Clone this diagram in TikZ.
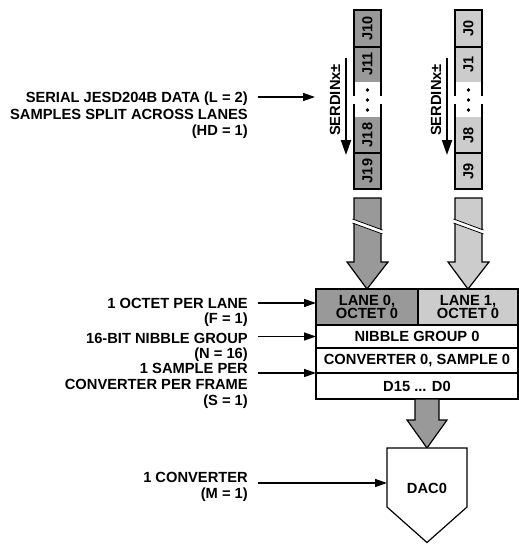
\documentclass[tikz,border=0pt]{standalone}
\usepackage{fontspec}
\setmainfont{Liberation Sans}
\usetikzlibrary{arrows.meta,positioning}
\definecolor{lanedark}{gray}{0.6}
\definecolor{lanelight}{gray}{0.8}

\begin{document}
\begin{tikzpicture}[x=1pt,y=-1pt,
    font=\fontsize{14.7}{15}\selectfont\bfseries,
    lbl/.style={anchor=north east,align=right,inner sep=0pt},
    cell/.style={draw,line width=1.2pt,inner sep=0pt,outer sep=0pt,align=center,
        font=\fontsize{14.7}{13.8}\selectfont\bfseries},
    jlbl/.style={rotate=90,inner sep=0pt,font=\fontsize{14.5}{15}\selectfont\bfseries},
    colline/.style={line width=1.4pt},
    labarrow/.style={-{Triangle[length=12pt,width=8pt]},line width=1.4pt},
    serarrow/.style={-{Triangle[length=15pt,width=10pt]},line width=2pt},
    bigarrow/.style={draw,line width=1.2pt,line join=miter}
]
\useasboundingbox (0,0) rectangle (519,544);

% frame table
\node[cell,fill=lanedark,minimum width=102pt,minimum height=36pt,anchor=north west]
    (lane0) at (316,289) {LANE 0,\\OCTET 0};
\node[cell,fill=lanelight,minimum width=100pt,minimum height=36pt,right=0pt of lane0]
    (lane1) {LANE 1,\\OCTET 0};
\node[cell,minimum width=202pt,minimum height=23pt,anchor=north west]
    (nibble) at (lane0.south west) {NIBBLE GROUP 0};
\node[cell,minimum width=202pt,minimum height=25pt,below=0pt of nibble]
    (conv) {CONVERTER 0, SAMPLE 0};
\node[cell,minimum width=202pt,minimum height=26pt,below=0pt of conv]
    (data) {D15 ... D0};

% serial lanes
\foreach \lx/\lc/\la/\lb/\lcc/\ld/\ln in {354/lanedark/J10/J11/J18/J19/0,
        455/lanelight/J0/J1/J8/J9/1}{
    \fill[\lc] (\lx,10) rectangle ++(27,72);
    \fill[\lc] (\lx,117) rectangle ++(27,72);
    \draw[colline] (\lx,96) -- (\lx,10) -- (\lx+27,10) -- (\lx+27,96);
    \draw[colline] (\lx,104) -- (\lx,189) -- (\lx+27,189) -- (\lx+27,104);
    \draw[colline] (\lx,47) -- ++(27,0) (\lx,153) -- ++(27,0);
    \node[jlbl] (ja\ln) at (\lx+13.5,28.5) {\la};
    \node[jlbl] (jb\ln) at (\lx+13.5,64) {\lb};
    \node[jlbl] (jc\ln) at (\lx+13.5,135) {\lcc};
    \node[jlbl] (jd\ln) at (\lx+13.5,171) {\ld};
    \foreach \dy in {90,100,110}
        \fill (\lx+13.5,\dy) circle[radius=1.8pt];
    \node[rotate=90,inner sep=0pt] (serdin\ln) at (\lx-19,100) {SERDINx±};
    \coordinate (sertop\ln) at (\lx-8,58);
    \coordinate (serend\ln) at (\lx-8,155);
    \draw[serarrow] (sertop\ln) -- (serend\ln);
    % lane into frame
    \draw[bigarrow,fill=\lc] (\lx,198) -- (\lx+27,198) -- (\lx+27,262) -- (\lx+34,262)
        -- (lane\ln.north) -- (\lx-7,262) -- (\lx,262) -- cycle;
    \fill[white] (\lx-1,219) -- (\lx+28,230) -- (\lx+28,234) -- (\lx-1,223) -- cycle;
    \draw[line width=0.8pt] (\lx-1.5,219) -- (\lx+28.5,230) (\lx-1.5,223) -- (\lx+28.5,234);
}

% converter
\coordinate (dactop) at (427,448);
\draw[bigarrow,fill=lanedark] (415,399) -- (439,399) -- (439,420) -- (447,420)
    -- (dactop) -- (407,420) -- (415,420) -- cycle;
\draw[line width=1.2pt,fill=white] (387,448) -- (467,448) -- (467,507) -- (427,542.5)
    -- (387,507) -- cycle;
\node (dac) at (427,488) {DAC0};

% left labels
\node[lbl,font=\fontsize{14.7}{16.5}\selectfont\bfseries] (serial) at (248,91.8)
    {SERIAL JESD204B DATA (L = 2)\\SAMPLES SPLIT ACROSS LANES\\(HD = 1)};
\node[lbl] (octet) at (248,297.7) {1 OCTET PER LANE\\(F = 1)};
\node[lbl] (nibblelbl) at (248,332.7) {16-BIT NIBBLE GROUP\\(N = 16)};
\node[lbl,font=\fontsize{14.7}{16}\selectfont\bfseries] (samplelbl) at (248,362.7)
    {1 SAMPLE PER\\CONVERTER PER FRAME\\(S = 1)};
\node[lbl,font=\fontsize{14.7}{16}\selectfont\bfseries] (convlbl) at (248,471.7)
    {1 CONVERTER\\(M = 1)};

\coordinate (serin) at (315,97);
\coordinate (octin) at ([yshift=4pt]lane0.west);
\coordinate (dacin) at (387,483);
\draw[labarrow] (serin -| serial.east) ++(10,0) -- (serin);
\draw[labarrow] (octin -| octet.east) ++(10,0) -- (octin);
\draw[labarrow] (nibble.west -| nibblelbl.east) ++(10,0) -- (nibble.west);
\draw[labarrow] (conv.south west -| samplelbl.east) ++(10,0) -- (conv.south west);
\draw[labarrow] (dacin -| convlbl.east) ++(10,0) -- (dacin);
\end{tikzpicture}
\end{document}
